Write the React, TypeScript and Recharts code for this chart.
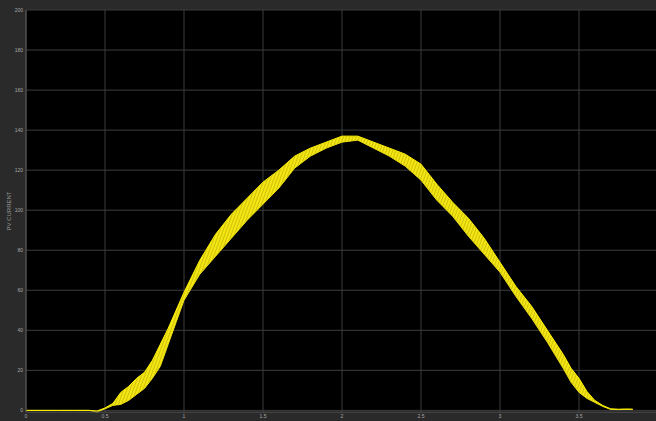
import React from 'react'
import { ComposedChart, Area, Line, XAxis, YAxis, CartesianGrid } from 'recharts'

// time axis (scope units) and the upper / lower edge of the noisy current trace
const time = [
  0, 0.1, 0.2, 0.3, 0.4, 0.45, 0.5, 0.55, 0.6, 0.65, 0.7, 0.75, 0.8, 0.85, 0.9, 0.95,
  1.0, 1.1, 1.2, 1.3, 1.4, 1.5, 1.6, 1.7, 1.8, 1.9, 2.0, 2.1, 2.2, 2.3, 2.4, 2.5,
  2.6, 2.7, 2.8, 2.9, 3.0, 3.1, 3.2, 3.3, 3.4, 3.45, 3.5, 3.55, 3.6, 3.65, 3.7, 3.75, 3.8, 3.84,
]
const lower = [
  0, 0, 0, 0, 0, -0.8, 0.8, 2.5, 3, 5, 8, 11, 16, 22, 33, 44,
  55, 68, 77, 86, 95, 103, 111, 121, 127, 131, 134, 135, 131, 127, 122, 115,
  105, 97, 87, 78, 69, 57, 46, 34, 21, 14, 9, 6, 4, 2, 0.5, 0.4, 0.5, 0.5,
]
const upper = [
  0, 0, 0, 0, 0, -0.3, 1.2, 3.5, 9, 12, 16, 19, 25, 33, 41, 50,
  59, 75, 88, 98, 106, 114, 120, 127, 131, 134, 137, 137, 134, 131, 128, 123,
  113, 104, 96, 86, 74, 62, 52, 40, 28, 21, 16, 9.5, 5, 2.5, 0.8, 0.6, 0.7, 0.6,
]

const xTicks = [0, 0.5, 1, 1.5, 2, 2.5, 3, 3.5]
const yTicks = [0, 20, 40, 60, 80, 100, 120, 140, 160, 180, 200]

const data = time.map((t, i) => ({ t, band: [lower[i], upper[i]], lo: lower[i], hi: upper[i] }))

const font = 'Liberation Sans, Arial, sans-serif'
const tickStyle = { fill: '#a8a8a8', fontSize: 5, fontFamily: font }

// x labels sit tight under the axis, like the scope window
const XTick = (props: any) => {
  const { x, y, payload } = props
  return (
    <text x={x} y={y + 6} textAnchor='middle' fill='#a8a8a8' fontSize={5} fontFamily={font}>
      {payload.value}
    </text>
  )
}

const App = () => {
  return (
    <div style={{ position: 'absolute', left: 0, top: 0, width: 656, height: 421, overflow: 'hidden', background: '#2a2a2a' }}>
      <ComposedChart width={658} height={421} data={data} margin={{ top: 10, right: 0, bottom: 0, left: 0 }}>
        <defs>
          <pattern id='noise' width='3' height='5' patternUnits='userSpaceOnUse' patternTransform='rotate(20)'>
            <rect width='3' height='5' fill='#f4e714' />
            <line x1='0.5' y1='0' x2='0.5' y2='5' stroke='#b5a800' strokeWidth='0.6' />
          </pattern>
        </defs>
        <CartesianGrid fill='#000' fillOpacity={1} stroke='#3d3d3d' strokeWidth={1} horizontalValues={yTicks} verticalValues={xTicks} />
        <XAxis
          dataKey='t'
          type='number'
          domain={[0, 4]}
          ticks={xTicks}
          height={9}
          axisLine={{ stroke: '#5a5a5a' }}
          tickLine={false}
          tickSize={0}
          tick={<XTick />}
          tickMargin={0}
          interval={0}
        />
        <YAxis
          type='number'
          domain={[0, 200]}
          ticks={yTicks}
          width={26}
          axisLine={{ stroke: '#5a5a5a' }}
          tickLine={false}
          tickSize={0}
          tick={tickStyle}
          tickMargin={3}
          interval={0}
          label={{ value: 'PV CURRENT', angle: -90, position: 'insideLeft', offset: 9, style: { fill: '#9a9a9a', fontSize: 6, fontFamily: font, textAnchor: 'middle' } }}
        />
        <Area dataKey='band' type='linear' stroke='none' fill='url(#noise)' fillOpacity={1} isAnimationActive={false} />
        <Line dataKey='lo' type='linear' stroke='#e8dc10' strokeWidth={1} dot={false} isAnimationActive={false} />
        <Line dataKey='hi' type='linear' stroke='#fff200' strokeWidth={1} dot={false} isAnimationActive={false} />
      </ComposedChart>
    </div>
  )
}

export default App
